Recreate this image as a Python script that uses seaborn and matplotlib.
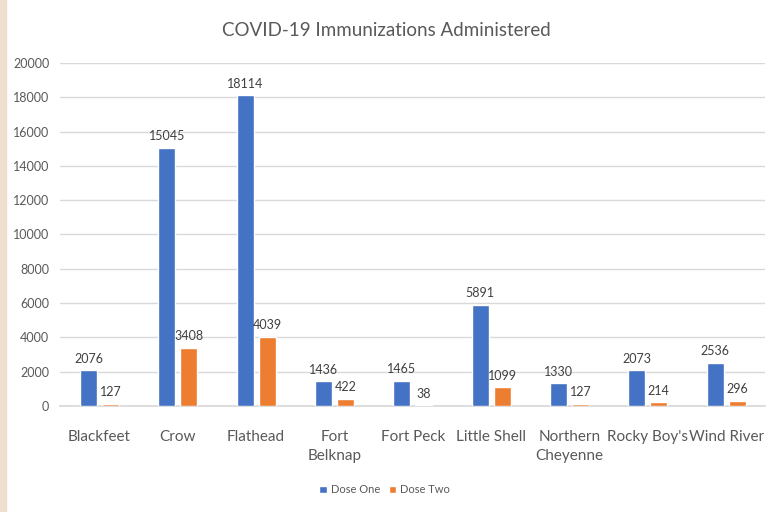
import matplotlib
matplotlib.use("Agg")
import matplotlib.pyplot as plt
import seaborn as sns
import pandas as pd
from matplotlib.patches import Rectangle

categories = ["Blackfeet", "Crow", "Flathead", "Fort\nBelknap", "Fort Peck",
              "Little Shell", "Northern\nCheyenne", "Rocky Boy's", "Wind River"]
dose_one = [2076, 15045, 18114, 1436, 1465, 5891, 1330, 2073, 2536]
dose_two = [127, 3408, 4039, 422, 38, 1099, 127, 214, 296]
series = ["Dose One", "Dose Two"]
yticks = [0, 2000, 4000, 6000, 8000, 10000, 12000, 14000, 16000, 18000, 20000]

df = pd.DataFrame({
    "Tribe": categories * 2,
    "Series": [series[0]] * len(categories) + [series[1]] * len(categories),
    "Value": dose_one + dose_two,
})

sns.set_theme(style="white")
plt.rcParams["font.family"] = ["Lato", "DejaVu Sans"]
txt = "#595959"

fig = plt.figure(figsize=(7.73, 5.12), dpi=100)
fig.patch.set_facecolor("white")
fig.patches.append(Rectangle((0, 0), 6 / 773, 1, transform=fig.transFigure,
                             color="#EFDFCD", zorder=0))
ax = fig.add_axes([0.078, 0.207, 0.912, 0.670])

sns.barplot(data=df, x="Tribe", y="Value", hue="Series", hue_order=series,
            palette=["#4472C4", "#ED7D31"], width=0.56, gap=0.23,
            saturation=1, ax=ax, legend=True, zorder=3)

for cont in ax.containers:
    ax.bar_label(cont, fmt="%d", padding=4, fontsize=9, color="#404040")

ax.set_ylim(0, 20000)
ax.set_yticks(yticks)
ax.set_yticklabels([str(v) for v in yticks], fontsize=9, color=txt)
ax.yaxis.grid(True, color="#D9D9D9", linewidth=1, zorder=0)
ax.set_axisbelow(True)
ax.tick_params(axis="x", labelsize=11, labelcolor=txt, length=0, pad=17)
ax.tick_params(axis="y", length=0, pad=8)
for lbl in ax.get_xticklabels():
    lbl.set_linespacing(1.5)
for s in ["top", "right", "left"]:
    ax.spines[s].set_visible(False)
ax.spines["bottom"].set_color("#D9D9D9")
ax.set_xlabel("")
ax.set_ylabel("")
ax.set_xlim(-0.5, len(categories) - 0.5)

fig.suptitle("COVID-19 Immunizations Administered", y=0.958, fontsize=13.5, color=txt)

leg = ax.legend(loc="lower center", bbox_to_anchor=(0.46, -0.29), ncol=2, frameon=False,
                fontsize=8, handlelength=0.7, handleheight=0.7, handletextpad=0.3,
                columnspacing=0.8)
for t in leg.get_texts():
    t.set_color(txt)

fig.savefig("out.png", dpi=100)
